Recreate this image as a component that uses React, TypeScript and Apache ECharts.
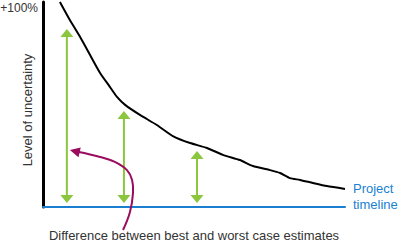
import React, { useEffect, useRef } from "react";
import * as echarts from "echarts";

// Uncertainty curve (percent of range, x = project progress 0..100)
const curveX = [5.6, 8.9, 12.3, 15.6, 18.9, 22.2, 24.5, 27.2, 32.1, 37.7, 43.0, 48.7, 54.3, 59.6, 65.2, 69.5, 75.2, 78.5, 81.8, 85.1, 89.4, 94.0, 100];
const curveY = [100, 91.2, 82.9, 74.1, 65.4, 58.5, 53.7, 49.8, 44.9, 40.0, 34.6, 31.2, 28.8, 25.4, 22.9, 20.0, 18.0, 16.6, 14.1, 13.2, 11.7, 10.2, 8.8];

// Green double-headed arrows (best vs worst case spread)
const arrowX = [7.9, 26.8, 51];
const arrowTop = [86.8, 46.8, 27.3];
const arrowBottom = [2, 2, 2];

// Magenta pointer from caption to first arrow
const pointerX = [26.5, 28.8, 29.8, 29.5, 27.8, 23.8, 18.9, 8.9];
const pointerY = [-11.2, -2.4, 6.8, 13.2, 18.0, 22.0, 24.4, 27.8];

const yTickLabel = "+100%";
const xAxisName = "Difference between best and worst case estimates";
const yAxisName = "Level of uncertainty";
const timelineLabel = "Project\ntimeline";

const FONT = "Liberation Sans, Arial, Helvetica, sans-serif";
const GREEN = "#8cc63f";
const PURPLE = "#9b0b5e";
const BLUE = "#1a7fd1";

export default function App() {
  const ref = useRef<HTMLDivElement>(null);
  useEffect(() => {
    if (!ref.current) return;
    const chart = echarts.init(ref.current, undefined, { renderer: "svg" });
    const curveData = curveX.map((x, i) => [x, curveY[i]]);
    const arrowData = arrowX.map((x, i) => [x, arrowBottom[i], arrowTop[i]]);
    const pointerData = pointerX.map((x, i) => [x, pointerY[i]]);

    chart.setOption({
      animation: false,
      grid: { left: 43, right: 53, top: 2, bottom: 36, containLabel: false, outerBoundsMode: "none" },
      xAxis: {
        type: "value",
        min: 0,
        max: 100,
        axisLine: { show: true, onZero: false, lineStyle: { color: BLUE, width: 2 } },
        axisTick: { show: false },
        axisLabel: { show: false },
        splitLine: { show: false },
        name: xAxisName,
        nameLocation: "middle",
        nameGap: 21,
        nameMoveOverlap: false,
        nameTextStyle: { color: "#333", fontSize: 13, lineHeight: 15, fontFamily: FONT },
        z: 3,
      },
      yAxis: {
        type: "value",
        min: 0,
        max: 100,
        interval: 100,
        axisLine: { show: true, lineStyle: { color: "#000", width: 3 } },
        axisTick: { show: false },
        axisLabel: {
          formatter: (v: number) => (v === 100 ? yTickLabel : ""),
          color: "#333",
          fontSize: 12,
          fontFamily: FONT,
          margin: 5,
          verticalAlign: "top",
        },
        splitLine: { show: false },
      },
      graphic: [
        {
          type: "text",
          x: 27,
          y: 110,
          rotation: Math.PI / 2,
          style: {
            text: yAxisName,
            fill: "#333",
            fontSize: 13,
            fontFamily: FONT,
            align: "center",
            verticalAlign: "middle",
          },
        },
        {
          type: "text",
          left: 353,
          top: 180,
          style: {
            text: timelineLabel,
            fill: BLUE,
            fontSize: 13,
            lineHeight: 16,
            fontFamily: FONT,
          },
        },
      ],
      series: [
        {
          type: "line",
          data: curveData,
          smooth: 0.2,
          showSymbol: false,
          lineStyle: { color: "#000", width: 2 },
          z: 4,
        },
        {
          type: "custom",
          data: arrowData,
          clip: false,
          z: 3,
          renderItem: (params: any, api: any) => {
            const x = api.value(0);
            const b = api.coord([x, api.value(1)]);
            const t = api.coord([x, api.value(2)]);
            const hw = 6.5;
            const hh = 8;
            return {
              type: "group",
              children: [
                {
                  type: "line",
                  shape: { x1: b[0], y1: b[1] - hh + 1, x2: t[0], y2: t[1] + hh - 1 },
                  style: { stroke: GREEN, lineWidth: 2 },
                },
                {
                  type: "polygon",
                  shape: { points: [[t[0], t[1]], [t[0] - hw, t[1] + hh], [t[0] + hw, t[1] + hh]] },
                  style: { fill: GREEN },
                },
                {
                  type: "polygon",
                  shape: { points: [[b[0], b[1]], [b[0] - hw, b[1] - hh], [b[0] + hw, b[1] - hh]] },
                  style: { fill: GREEN },
                },
              ],
            };
          },
        },
        {
          type: "custom",
          data: [0],
          clip: false,
          z: 5,
          renderItem: (params: any, api: any) => {
            const pts = pointerData.map((p) => api.coord(p));
            const n = pts.length;
            const tip = pts[n - 1];
            const prev = pts[n - 2];
            const dx = tip[0] - prev[0];
            const dy = tip[1] - prev[1];
            const len = Math.sqrt(dx * dx + dy * dy);
            const ux = dx / len;
            const uy = dy / len;
            const hl = 10;
            const hw = 5;
            const bx = tip[0] - ux * hl;
            const by = tip[1] - uy * hl;
            const linePts = pts.slice(0, n - 1).concat([[tip[0] - ux * (hl - 2), tip[1] - uy * (hl - 2)]]);
            return {
              type: "group",
              children: [
                {
                  type: "polyline",
                  shape: { points: linePts, smooth: 0.4 },
                  style: { stroke: PURPLE, lineWidth: 2, fill: "none" },
                },
                {
                  type: "polygon",
                  shape: {
                    points: [
                      [tip[0], tip[1]],
                      [bx - uy * hw, by + ux * hw],
                      [bx + uy * hw, by - ux * hw],
                    ],
                  },
                  style: { fill: PURPLE },
                },
              ],
            };
          },
        },
      ],
    });
    return () => chart.dispose();
  }, []);
  return <div ref={ref} style={{ width: 398, height: 243, position: "absolute", left: 0, top: 0 }} />;
}
